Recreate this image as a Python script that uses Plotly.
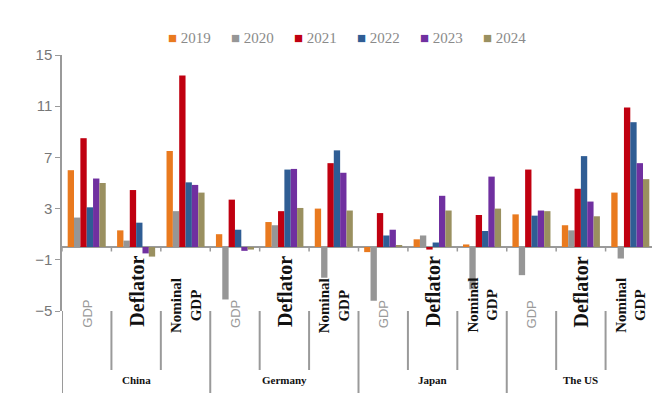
import plotly.graph_objects as go

countries = ["China", "Germany", "Japan", "The US"]
indicators = ["GDP", "Deflator", "Nominal GDP"]
years = ["2019", "2020", "2021", "2022", "2023", "2024"]

# values per year, order: China(GDP, Deflator, Nominal), Germany(...), Japan(...), The US(...)
v2019 = [6.0, 1.3, 7.5, 1.0, 1.95, 3.0, -0.4, 0.6, 0.2, 2.55, 1.7, 4.25]
v2020 = [2.3, 0.5, 2.8, -4.1, 1.7, -2.4, -4.2, 0.9, -3.3, -2.2, 1.3, -0.9]
v2021 = [8.5, 4.45, 13.4, 3.7, 2.8, 6.55, 2.65, -0.2, 2.5, 6.05, 4.55, 10.9]
v2022 = [3.1, 1.9, 5.05, 1.35, 6.05, 7.55, 0.9, 0.35, 1.25, 2.45, 7.1, 9.75]
v2023 = [5.35, -0.5, 4.85, -0.3, 6.1, 5.8, 1.35, 4.0, 5.5, 2.85, 3.55, 6.55]
v2024 = [5.0, -0.75, 4.25, -0.2, 3.05, 2.85, 0.15, 2.85, 3.0, 2.8, 2.4, 5.3]

series = [v2019, v2020, v2021, v2022, v2023, v2024]
colors = ["#E97A1F", "#969696", "#C00010", "#2F5D94", "#7030A0", "#9A9060"]

x = list(range(len(countries) * len(indicators)))

fig = go.Figure()
for name, vals, col in zip(years, series, colors):
    fig.add_trace(go.Bar(x=x, y=vals, name=name, showlegend=False,
                         marker=dict(color=col, line=dict(width=0))))

GRAY = "#9a9a9a"
L, R, T, B = 54, 13, 47, 90
W, H = 660, 393
pw, ph = W - L - R, H - T - B

def px_x(p):
    return (p - L) / pw

def px_y(p):
    return (H - B - p) / ph

shapes = []
annotations = []
n = len(x)
for b in range(n + 1):
    xb = b - 0.5
    country_edge = (b % 3 == 0)
    shapes.append(dict(type="line", xref="x", yref="y", x0=xb, x1=xb, y0=0, y1=-0.35,
                       line=dict(color=GRAY, width=1.5)))
    shapes.append(dict(type="line", xref="x", yref="paper", x0=xb, x1=xb,
                       y0=0, y1=px_y(390 if country_edge else 362),
                       line=dict(color=GRAY, width=2)))

for i in x:
    ind = indicators[i % 3]
    if ind == "GDP":
        annotations.append(dict(x=i, y=px_y(322), xref="x", yref="paper", text="GDP", textangle=-90,
                                showarrow=False, font=dict(family="Arial", size=13, color="#9a9a9a")))
    elif ind == "Deflator":
        annotations.append(dict(x=i, y=px_y(321), xref="x", yref="paper", text="<b>Deflator</b>", textangle=-90,
                                showarrow=False, font=dict(family="Liberation Serif", size=20, color="#111")))
    else:
        annotations.append(dict(x=i, y=px_y(327), xref="x", yref="paper", text="<b>Nominal<br>GDP</b>", textangle=-90,
                                showarrow=False, font=dict(family="Liberation Serif", size=15, color="#111")))

for c, name in enumerate(countries):
    annotations.append(dict(x=c * 3 + 1, y=px_y(380), xref="x", yref="paper", text="<b>" + name + "</b>",
                            showarrow=False, font=dict(family="Liberation Serif", size=11, color="#111")))

# legend row
for k, (name, col) in enumerate(zip(years, colors)):
    annotations.append(dict(x=px_x(158 + 63 * k), y=px_y(30), xref="paper", yref="paper",
                            xanchor="left", yanchor="middle", showarrow=False,
                            text='<span style="color:%s">■</span> %s' % (col, name),
                            font=dict(family="Liberation Serif", size=15, color="#8a8a8a")))

fig.update_layout(
    width=W, height=H,
    margin=dict(l=L, r=R, t=T, b=B, autoexpand=False),
    paper_bgcolor="white", plot_bgcolor="white",
    barmode="group", bargap=0.23, bargroupgap=0,
    showlegend=False,
    xaxis=dict(range=[-0.5, n - 0.5], showticklabels=False, showgrid=False, zeroline=False,
               showline=False, ticks=""),
    yaxis=dict(range=[-5, 15], tickvals=[-5, -1, 3, 7, 11, 15], showgrid=False,
               zeroline=True, zerolinecolor=GRAY, zerolinewidth=1.5,
               showline=True, linecolor=GRAY, linewidth=1.5, ticks="outside", ticklen=5,
               tickcolor=GRAY, tickfont=dict(family="Arial", size=15, color="#777")),
    shapes=shapes, annotations=annotations,
)

fig.write_html("out.html")
